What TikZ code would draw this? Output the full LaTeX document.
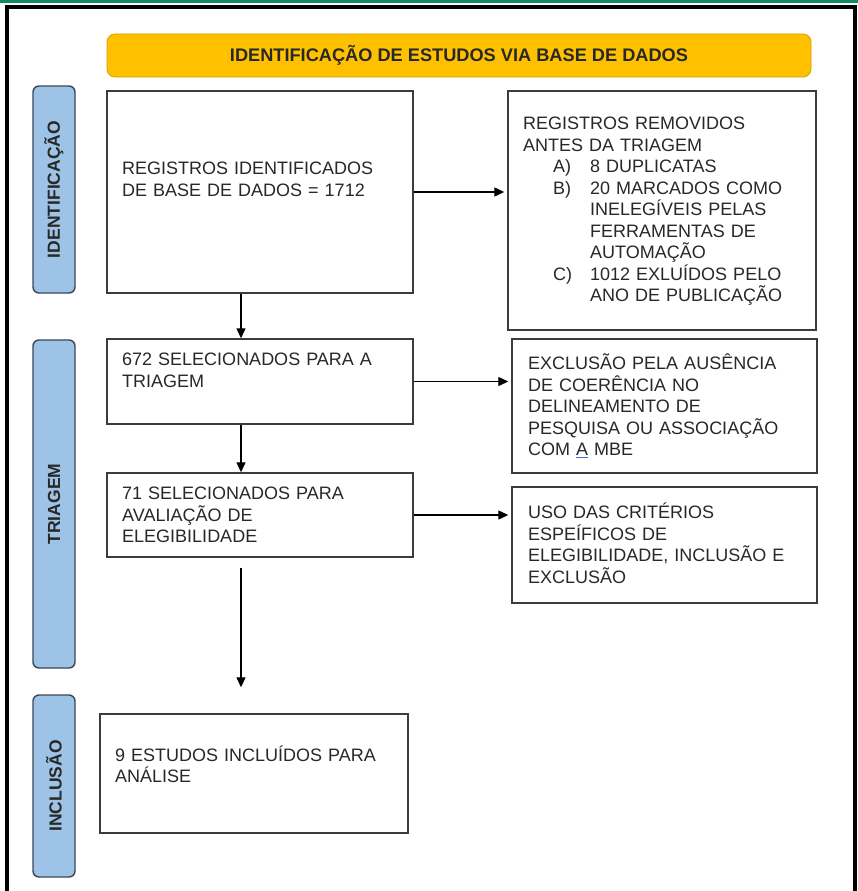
\documentclass[tikz,border=0pt]{standalone}
\usepackage{fontspec}
\usepackage{graphicx}
\setmainfont{Liberation Sans}
\usetikzlibrary{arrows.meta}
\definecolor{topgreen}{RGB}{18,138,98}
\definecolor{hdrfill}{RGB}{255,192,0}
\definecolor{hdrdraw}{RGB}{214,160,0}
\definecolor{sideblue}{RGB}{157,195,230}
\definecolor{sideedge}{RGB}{60,70,85}
\definecolor{boxedge}{RGB}{60,60,60}
\definecolor{txtc}{RGB}{40,40,40}
\definecolor{ulblue}{RGB}{60,110,220}
\newcommand{\bodyfnt}{\fontsize{18}{21.5}\selectfont}
\newcommand{\hdrfnt}{\fontsize{18.2}{21}\selectfont\bfseries}
\newcommand{\sidefnt}{\fontsize{17.5}{20}\selectfont\bfseries}
\tikzset{
  flowbox/.style={draw=boxedge, line width=1.4pt, fill=white, rectangle, inner sep=0pt},
  sidebox/.style={draw=sideedge, line width=1.4pt, fill=sideblue, rectangle, rounded corners=6pt, inner sep=0pt, text=txtc, font=\sidefnt},
  hdrbox/.style={draw=hdrdraw, line width=0.8pt, fill=hdrfill, rectangle, rounded corners=8pt, inner sep=0pt, text=txtc, font=\hdrfnt},
  bodytxt/.style={anchor=base west, inner sep=0pt, align=left, text width=292pt, text=txtc, font=\bodyfnt},
  arr/.style={-{Triangle[length=10pt,width=9pt]}, line width=1.2pt, black}
}
\begin{document}
\begin{tikzpicture}[x=1pt,y=-1pt]
\useasboundingbox (0,0) rectangle (858,891);
% top band and frame
\fill[topgreen] (0,0) rectangle (858,3.5);
\draw[line width=4pt, black] (7,905) -- (7,7) -- (855,7) -- (855,905);
% header
\node[hdrbox, minimum width=704pt, minimum height=43pt] (hdr) at (459,55.5) {IDENTIFICAÇÃO DE ESTUDOS VIA BASE DE DADOS};
% side labels
\node[sidebox, minimum width=42pt, minimum height=207pt] (s1) at (54,189.5) {\rotatebox{90}{IDENTIFICAÇÃO}};
\node[sidebox, minimum width=42pt, minimum height=328pt] (s2) at (54,504) {\rotatebox{90}{TRIAGEM}};
\node[sidebox, minimum width=42pt, minimum height=182pt] (s3) at (54,786) {\rotatebox{90}{INCLUSÃO}};
% boxes
\node[flowbox, minimum width=306pt, minimum height=202pt] (b1) at (260,192) {};
\node[flowbox, minimum width=308pt, minimum height=239pt] (r1) at (662,210.5) {};
\node[flowbox, minimum width=306pt, minimum height=85pt] (b2) at (260,381.5) {};
\node[flowbox, minimum width=305pt, minimum height=134pt] (r2) at (664.5,406) {};
\node[flowbox, minimum width=306pt, minimum height=84pt] (b3) at (260,515) {};
\node[flowbox, minimum width=305pt, minimum height=116pt] (r3) at (664.5,545) {};
\node[flowbox, minimum width=308pt, minimum height=119pt] (b4) at (254,773.5) {};
% texts
\node[bodytxt] (t1) at (122,174.5) {REGISTROS IDENTIFICADOS\\DE BASE DE DADOS = 1712};
\node[bodytxt] (tr1) at (523,129.5) {REGISTROS REMOVIDOS\\ANTES DA TRIAGEM\\
\hspace*{30pt}\makebox[37pt][l]{A)}8 DUPLICATAS\\
\hspace*{30pt}\makebox[37pt][l]{B)}20 MARCADOS COMO\\
\hspace*{67pt}INELEGÍVEIS PELAS\\
\hspace*{67pt}FERRAMENTAS DE\\
\hspace*{67pt}AUTOMAÇÃO\\
\hspace*{30pt}\makebox[37pt][l]{C)}1012 EXLUÍDOS PELO\\
\hspace*{67pt}ANO DE PUBLICAÇÃO};
\node[bodytxt] (t2) at (122,365.5) {672 SELECIONADOS PARA A\\TRIAGEM};
\node[bodytxt] (tr2) at (528,369.5) {EXCLUSÃO PELA AUSÊNCIA\\DE COERÊNCIA NO\\DELINEAMENTO DE\\PESQUISA OU ASSOCIAÇÃO\\COM \textcolor{ulblue}{\underline{\textcolor{txtc}{A}}} MBE};
\node[bodytxt] (t3) at (122,499.5) {71 SELECIONADOS PARA\\AVALIAÇÃO DE\\ELEGIBILIDADE};
\node[bodytxt] (tr3) at (528,518.5) {USO DAS CRITÉRIOS\\ESPEÍFICOS DE\\ELEGIBILIDADE, INCLUSÃO E\\EXCLUSÃO};
\node[bodytxt, font=\fontsize{18}{20.5}\selectfont] (t4) at (115,761.5) {9 ESTUDOS INCLUÍDOS PARA\\ANÁLISE};
% connectors
\coordinate (ax) at (241,0);
\draw[arr, shorten >=3pt] (b1.east) -- (b1.east -| r1.west);
\draw[arr, shorten >=3pt] (b2.east) -- (b2.east -| r2.west);
\draw[arr, shorten >=3pt] (b3.east) -- (b3.east -| r3.west);
\draw[arr] (b1.south -| ax) -- (b2.north -| ax);
\draw[arr] (b2.south -| ax) -- (b3.north -| ax);
\draw[arr, shorten <=10pt, shorten >=26pt] (b3.south -| ax) -- (b4.north -| ax);
\end{tikzpicture}
\end{document}
